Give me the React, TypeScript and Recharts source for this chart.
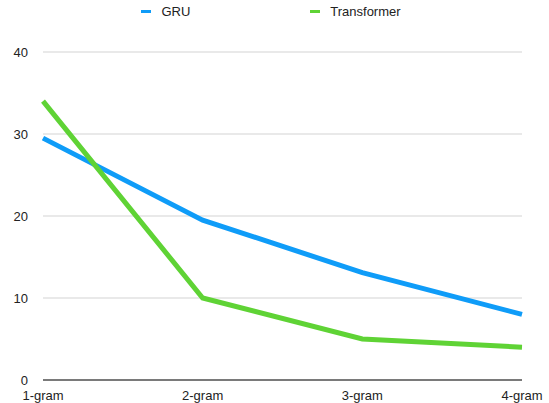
import { CartesianGrid, Legend, Line, LineChart, XAxis, YAxis } from "recharts"

const categories = ["1-gram", "2-gram", "3-gram", "4-gram"]
const gruValues = [29.5, 19.5, 13.1, 8.0]
const transformerValues = [34.0, 10.0, 5.0, 4.0]
const yTicks = [0, 10, 20, 30, 40]

const BLUE = "#0f9cf8"
const GREEN = "#5fd335"

const data = categories.map((name, i) => ({
  name,
  gru: gruValues[i],
  transformer: transformerValues[i],
}))

function TopLegend({ payload }: any) {
  return (
    <div style={{ display: "flex", justifyContent: "center", gap: 120, paddingLeft: 20 }}>
      {(payload || []).map((item: any) => (
        <div key={item.value} style={{ display: "flex", alignItems: "center" }}>
          <span style={{ display: "inline-block", width: 10, height: 3, background: item.color, marginRight: 10 }} />
          <span style={{ fontSize: 13, color: "#222" }}>{item.value}</span>
        </div>
      ))}
    </div>
  )
}

export default function App() {
  return (
    <div style={{ position: "absolute", left: 0, top: 0, width: 549, height: 403, background: "#fff", fontFamily: "'Liberation Sans', Arial, sans-serif" }}>
      <LineChart width={549} height={403} data={data} margin={{ top: 30, right: 27, bottom: 0, left: 0 }}>
        <CartesianGrid vertical={false} stroke="#e2e2e2" strokeWidth={1.5} />
        <XAxis
          dataKey="name"
          tickLine={false}
          axisLine={{ stroke: "#555", strokeWidth: 1.5 }}
          tick={{ fill: "#222", fontSize: 13 }}
          tickMargin={5}
          height={23}
          padding={{ left: 0, right: 0 }}
        />
        <YAxis
          domain={[0, 40]}
          ticks={yTicks}
          tickLine={false}
          axisLine={false}
          tick={{ fill: "#222", fontSize: 13 }}
          tickMargin={9}
          width={43}
        />
        <Legend verticalAlign="top" height={22} wrapperStyle={{ top: 4 }} content={<TopLegend />} />
        <Line dataKey="gru" name="GRU" stroke={BLUE} strokeWidth={5} dot={false} isAnimationActive={false} strokeLinejoin="miter" />
        <Line dataKey="transformer" name="Transformer" stroke={GREEN} strokeWidth={5} dot={false} isAnimationActive={false} strokeLinejoin="miter" />
      </LineChart>
    </div>
  )
}
